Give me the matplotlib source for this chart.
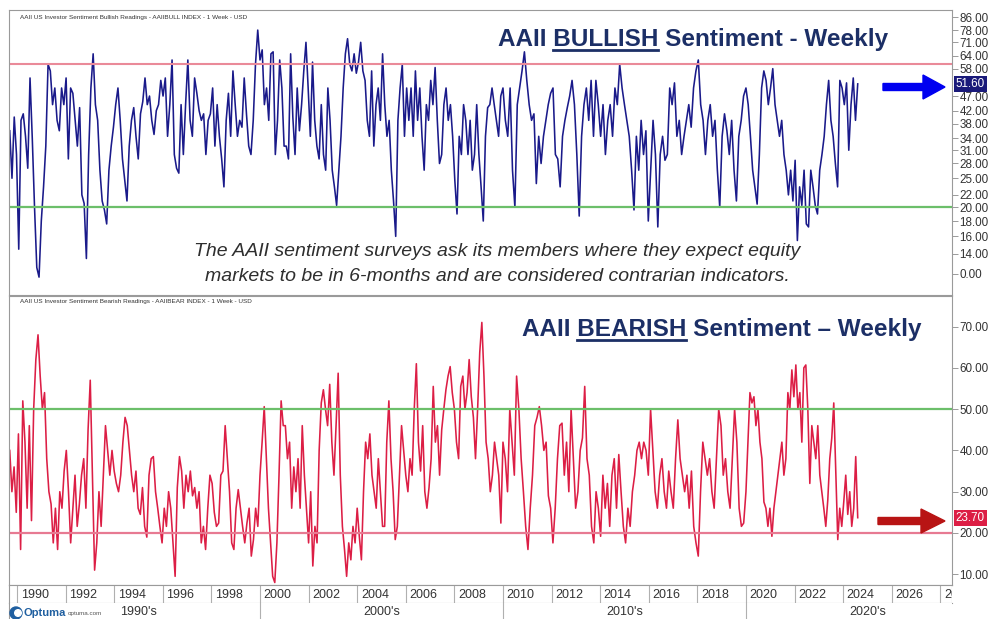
import numpy as np
import matplotlib
matplotlib.use("Agg")
import matplotlib.pyplot as plt
from matplotlib.lines import Line2D
from matplotlib.patches import FancyArrow, Circle
from matplotlib.transforms import IdentityTransform, blended_transform_factory

plt.rcParams['font.family'] = ['Liberation Sans', 'DejaVu Sans']

# ---------------- data ----------------
# AAII Bullish % (approximate samples, several per year)
bull_1990s = [36, 25, 40, 30,
              14.5, 39, 41, 34.5, 27, 54, 34, 20, 12.6, 11.7, 18, 23.4, 32,
              60, 57, 44, 50, 39, 36, 50, 44, 54, 29, 50,
              48, 39, 32, 43, 22, 20.6, 13.5, 30, 50, 65, 44,
              39, 26.6, 21, 19.6, 17.6, 26.6, 32, 37, 44, 50,
              39, 29, 24.6, 21, 32, 39, 43, 34.5, 29, 41,
              45, 54, 44, 47, 39, 35, 42, 44, 53, 47,
              54, 34.5, 44, 62, 30, 27, 26, 44, 30, 44,
              62, 39, 34.5, 54, 48, 42, 39, 41, 30, 39,
              41, 50, 32, 44, 34.5, 29, 23.4, 39, 48, 34.5, 57,
              44, 34.5, 39, 37, 54, 41, 32, 30, 39, 60, 78]
bull_2000s = [62, 67, 44, 50, 39, 65, 66, 30, 39, 62, 50, 32,
              32, 29, 65, 40, 30, 50, 36, 44, 57, 71, 50, 34.5,
              61, 39, 32, 29, 44, 30, 26.6, 50, 39, 26.6, 23.4,
              20.3, 26.6, 34.5, 50, 65, 73, 60, 57, 65, 56, 61, 71, 57,
              53, 39, 34.5, 57, 32, 44, 50, 39, 65, 44, 34.5,
              39, 26.6, 21, 16, 39, 50, 60, 34.5, 50, 39, 50, 34.5,
              57, 39, 50, 34.5, 26.6, 44, 39, 53, 44, 58.5,
              39, 28, 30, 44, 50, 39, 44, 34.5, 24.6, 19,
              34.5, 30, 44, 39, 30, 39, 26.6, 30, 44, 30,
              23.4, 18, 34.5, 43, 44, 50, 44, 39, 34.5, 47]
bull_2010s = [50, 39, 34.5, 50, 26.6, 20, 44, 50, 57, 66,
              53, 44, 39, 41, 24, 34.5, 28, 34.5, 39, 44,
              48, 50, 30, 29, 23.4, 34.5, 39, 43, 47, 53,
              44, 30, 18.7, 34.5, 44, 50, 39, 53, 34.5, 53, 44,
              34.5, 44, 30, 39, 44, 34.5, 50, 44, 60, 50,
              44, 39, 34.5, 26.6, 19.6, 34.5, 26.6, 39, 30, 36,
              18, 26.6, 39, 30, 17.2, 30, 34.5, 28.7, 30, 50, 44,
              52, 34.5, 39, 30, 34.5, 39, 44, 37, 50, 57,
              62, 44, 39, 30, 39, 44, 34.5, 39, 26.6, 20,
              34.5, 41, 36, 30, 39, 26.6, 21, 34.5, 39, 47]
bull_2020s = [50, 44, 34.5, 26.6, 23.4, 20.5, 30, 50, 57, 53,
              44, 50, 58, 44, 39, 34.5, 39, 30, 26.6, 22,
              26.6, 21, 28.7, 15.5, 23.4, 20.3, 26.6, 17.6, 17.2, 26.6, 23.4, 20.3,
              19, 26.6, 30, 34.5, 44, 53, 39, 34.5, 28, 23.4, 53,
              50, 44, 52, 31, 44, 54, 39, 51.6]

# AAII Bearish %
bear_1990s = [40, 30, 36, 25, 44, 16,
              52, 42, 26, 46, 23, 50, 62, 68, 58, 50, 54, 38,
              30, 27, 17.6, 26, 16, 30, 26, 35, 40, 30, 17.6,
              26, 34, 21.6, 27, 34, 38, 26, 45, 57, 34, 11, 17.6,
              30, 21.6, 34, 46, 40, 34, 40, 35, 32, 30,
              34, 42, 48, 46, 40, 34, 30, 35, 26, 24.5, 31,
              21.6, 19, 34, 38, 38.5, 30, 26, 21.6, 17.6, 26,
              21.6, 30, 26, 17.6, 9.5, 31, 38.5, 35, 26, 34, 30,
              35, 29, 31, 26, 30, 17.6, 21.6, 16, 26, 34,
              32, 25, 21.6, 22.4, 34, 35, 46, 38, 30, 17.6, 16,
              26, 30.5, 26, 21.6, 17.6, 22.4, 26, 14.4, 18.4, 26, 21.6]
bear_2000s = [34, 42, 50.6, 38, 26, 17.6, 9.5, 8, 17.6, 34, 52, 46,
              46, 38, 42, 26, 36, 30, 38, 26, 46, 34, 26, 17.6,
              30, 12, 21.6, 17.6, 40, 51.5, 54.7, 50, 46, 56, 42, 34,
              46, 58.7, 34, 21.6, 16, 9.5, 17.6, 13.5, 21.6, 17.6, 26, 19.2,
              13.5, 30, 42, 38, 44, 34, 30, 26, 38, 30, 21.6,
              21.6, 42, 52, 38, 30, 18.4, 21.6, 34, 46, 40, 34,
              30, 38, 34, 50, 61, 42, 35, 46, 30, 26,
              31, 38, 55.5, 42, 46, 34, 45, 50, 54.7, 58,
              60.3, 54, 50, 42, 38, 55.5, 58, 50, 54, 62, 53, 48, 38,
              50, 63.7, 71, 58, 42, 38, 30, 34, 42, 38, 34, 22.4]
bear_2010s = [42, 38, 30, 50, 42, 34, 58, 50, 38, 30, 21.6,
              16, 26, 34, 46, 48, 50.6, 46, 40, 42, 29, 26,
              17.6, 26, 38, 46, 46.6, 34, 42, 30, 50, 38, 26,
              30, 40, 43, 55.5, 38, 34, 21.6, 17.6, 30, 26, 19.2, 34,
              26, 32, 21.6, 34, 38, 26, 39, 30, 21.6, 17.6,
              26, 21.6, 30, 34, 40, 42, 38, 42, 40, 34,
              50, 40, 30, 26, 34, 38, 30, 26, 35, 30, 26,
              38, 47.4, 38, 34, 30, 34, 26, 35, 21.6, 17.6,
              14.4, 30, 42, 38, 34, 38, 30, 26, 38, 50,
              46, 34, 38, 30, 26, 38, 50, 42, 26, 21.6, 22.4]
bear_2020s = [30, 42, 54, 51.5, 53, 46, 50, 42, 38, 27.5, 26,
              21.6, 26, 19.2, 26, 30, 34, 38, 42, 34, 38,
              54, 50, 59.5, 53, 60.7, 50, 54, 42, 60, 60.7, 50, 32, 46, 42,
              38, 46, 34, 30, 26, 21.6, 28, 38, 43, 51.5, 35, 18.4,
              26, 21.6, 27.5, 34, 24.5, 30, 21.6, 26, 38.5, 23.7]

# period boundaries (decimal years) for the sample lists above
period_bounds = [1989.7, 2000.0, 2010.0, 2020.0, 2024.6]

bull_ticks = [86, 78, 71, 64, 58, 47, 42, 38, 34, 31, 28, 25, 22, 20, 18, 16, 14, 12]
bull_tick_labels = ["86.00", "78.00", "71.00", "64.00", "58.00", "47.00", "42.00", "38.00",
                    "34.00", "31.00", "28.00", "25.00", "22.00", "20.00", "18.00", "16.00",
                    "14.00", "0.00"]
bear_ticks = [70, 60, 50, 40, 30, 20, 10]
bear_tick_labels = ["70.00", "60.00", "50.00", "40.00", "30.00", "20.00", "10.00"]
bull_levels = [60, 20]
bear_levels = [50, 20]
bull_last = 51.60
bear_last = 23.70
year_ticks = list(range(1990, 2030, 2))
decades = ["1990's", "2000's", "2010's", "2020's"]
decade_starts = [1990, 2000, 2010, 2020]


def time_axis(parts):
    xs = []
    for i, p in enumerate(parts):
        last = (i == len(parts) - 1)
        xs.append(np.linspace(period_bounds[i], period_bounds[i + 1], len(p), endpoint=last))
    return np.concatenate(xs), np.concatenate([np.asarray(p, float) for p in parts])


bx, by = time_axis([bull_1990s, bull_2000s, bull_2010s, bull_2020s])
rx, ry = time_axis([bear_1990s, bear_2000s, bear_2010s, bear_2020s])

# ---------------- figure ----------------
W, H = 989, 619
fig = plt.figure(figsize=(W / 100, H / 100), dpi=100)
fig.patch.set_facecolor('white')


def rect(x0, y0, x1, y1):
    return [x0 / W, 1 - y1 / H, (x1 - x0) / W, (y1 - y0) / H]


XMIN, XMAX = 1989.67, 2028.48
spine_c = '#9a9a9a'
navy = '#1a1a8a'
crimson = '#dc1e45'
green = '#6cbf6a'
title_c = '#1c2f66'

ax1 = fig.add_axes(rect(9, 10, 952, 295))
ax2 = fig.add_axes(rect(9, 296, 952, 585))

for ax in (ax1, ax2):
    ax.set_xlim(XMIN, XMAX)
    ax.set_xticks([])
    for s in ax.spines.values():
        s.set_color(spine_c)
        s.set_linewidth(0.8)
    ax.yaxis.tick_right()
    ax.tick_params(axis='y', which='both', direction='out', length=4, width=0.7,
                   color=spine_c, labelsize=8.4, labelcolor='#333333', pad=1.5)

# Bullish panel
ax1.set_yscale('log')
ax1.set_ylim(10.2, 91)
ax1.plot(bx, by, color=navy, lw=1.15)
ax1.axhline(bull_levels[0], color='#ea8a99', lw=1.5)
ax1.axhline(bull_levels[1], color=green, lw=1.6)
ax1.set_yticks(bull_ticks)
ax1.set_yticklabels(bull_tick_labels)
ax1.yaxis.set_minor_locator(matplotlib.ticker.NullLocator())

# Bearish panel
ax2.set_ylim(7.4, 77.4)
ax2.plot(rx, ry, color=crimson, lw=1.15)
ax2.axhline(bear_levels[0], color=green, lw=1.6)
ax2.axhline(bear_levels[1], color='#e77a92', lw=1.6)
ax2.set_yticks(bear_ticks)
ax2.set_yticklabels(bear_tick_labels)

# last value boxes
for ax, val, fc in ((ax1, bull_last, '#1a1a7a'), (ax2, bear_last, crimson)):
    tr = blended_transform_factory(ax.transAxes, ax.transData)
    ax.text(1.004, val, f"{val:.2f}", transform=tr, ha='left', va='center', fontsize=8.4,
            color='white', clip_on=False,
            bbox=dict(boxstyle='square,pad=0.18', fc=fc, ec='none'))

# header small texts
fig.text(20 / W, 1 - 17 / H, "AAII US Investor Sentiment Bullish Readings - AAIIBULL INDEX - 1 Week - USD",
         fontsize=4.6, color='#333333', va='center')
fig.text(20 / W, 1 - 302 / H, "AAII US Investor Sentiment Bearish Readings - AAIIBEAR INDEX - 1 Week - USD",
         fontsize=4.6, color='#333333', va='center')

# titles with underlined word
renderer = fig.canvas.get_renderer()


def text_width(s, size):
    t = fig.text(0, 0, s, fontsize=size, fontweight='bold')
    w = t.get_window_extent(renderer).width
    t.remove()
    return w


def title(x_px, y_px, pre, word, post, size=17.5):
    fig.text(x_px / W, 1 - y_px / H, pre + word + post, ha='left', va='baseline',
             fontsize=size, fontweight='bold', color=title_c)
    x1 = x_px + text_width(pre + word, size)
    x0 = x1 - text_width(word, size)
    fig.add_artist(Line2D([x0 / W, x1 / W], [1 - (y_px + 4) / H] * 2, color=title_c, lw=2))


title(498, 46, "AAII ", "BULLISH", " Sentiment - Weekly")
title(522, 336, "AAII ", "BEARISH", " Sentiment \u2013 Weekly")

# annotation
fig.text(497 / W, 1 - 251 / H,
         "The AAII sentiment surveys ask its members where they expect equity",
         ha='center', va='center', fontsize=14, style='italic', color='#2e2e2e')
fig.text(497 / W, 1 - 277 / H,
         "markets to be in 6-months and are considered contrarian indicators.",
         ha='center', va='center', fontsize=14, style='italic', color='#2e2e2e')

# arrows (pixel coordinates, origin bottom-left)
fig.add_artist(FancyArrow(883, H - 87, 62, 0, width=7, head_width=24, head_length=22,
                          length_includes_head=True, color='#0000f0', transform=IdentityTransform()))
fig.add_artist(FancyArrow(878, H - 521, 67, 0, width=7, head_width=24, head_length=24,
                          length_includes_head=True, color='#b81414', transform=IdentityTransform()))

# date label row
ax3 = fig.add_axes(rect(9, 585, 952, 603))
ax3.set_xlim(XMIN, XMAX)
ax3.set_ylim(0, 1)
ax3.set_xticks([])
ax3.set_yticks([])
for s in ax3.spines.values():
    s.set_color(spine_c)
    s.set_linewidth(0.8)
ax3.spines['right'].set_visible(False)
for yr in year_ticks:
    ax3.axvline(yr, color='#b0b0b0', lw=0.8)
    ax3.text(yr + 0.15, 0.45, str(yr), ha='left', va='center', fontsize=9, color='#333333',
             clip_on=True)
ax3.axvline(XMAX, color=spine_c, lw=0.8)

# decade row
ax4 = fig.add_axes(rect(9, 603, 952, 619))
ax4.set_xlim(XMIN, XMAX)
ax4.set_ylim(0, 1)
ax4.set_xticks([])
ax4.set_yticks([])
for k, s in ax4.spines.items():
    s.set_visible(k == 'left')
    s.set_color(spine_c)
for d0, lab in zip(decade_starts, decades):
    if d0 > 1990:
        ax4.axvline(d0, color='#b0b0b0', lw=0.8)
    ax4.text(d0 + 5, 0.45, lab, ha='center', va='center', fontsize=9, color='#333333',
             clip_on=False)

# Optuma logo
fig.add_artist(Circle((16, H - 613), 6, color='#1f5fa0', transform=IdentityTransform()))
fig.add_artist(Circle((18, H - 613), 3.3, color='white', transform=IdentityTransform()))
fig.text(24 / W, 1 - 613 / H, "Optuma", fontsize=8, fontweight='bold', color='#1f5fa0', va='center')
fig.text(68 / W, 1 - 613 / H, "optuma.com", fontsize=4.5, color='#555555', va='center')

fig.savefig("out.png", dpi=100, facecolor='white')
